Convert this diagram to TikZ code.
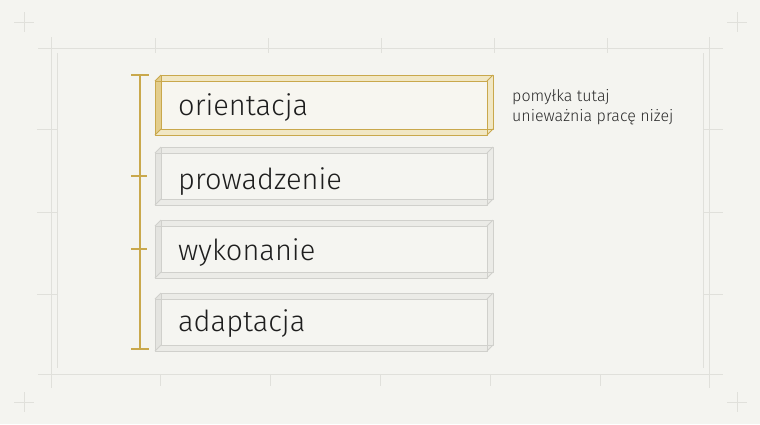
\documentclass[tikz,border=0pt]{standalone}
\usepackage{fontspec}
\setmainfont{Fira Sans}
\newfontfamily\lightfont{Fira Sans Light}
\definecolor{bg}{HTML}{F4F4F0}
\definecolor{gridc}{HTML}{E0E0DB}
\definecolor{gold}{HTML}{C9A84C}
\definecolor{goldside}{HTML}{E3CD8C}
\definecolor{goldlight}{HTML}{F1E7C4}
\definecolor{goldin}{HTML}{F7F6F0}
\definecolor{grayline}{HTML}{D0D0CC}
\definecolor{grayside}{HTML}{E4E4E0}
\definecolor{graylight}{HTML}{EBEBE7}
\definecolor{grayin}{HTML}{F5F5F1}
\definecolor{ink}{HTML}{1E1E1E}
\definecolor{notec}{HTML}{2A2A2A}
\newcommand\stageBox[7]{%
  \fill[#6] (155,#2+6) -- (161,#2) -- (493,#2) -- (493,#3-6) -- (487,#3) -- (155,#3) -- cycle;
  \fill[#7] (161,#2+6) rectangle (487,#3-6);
  \fill[#5] (155,#2+6) -- (161,#2) -- (161,#3-6) -- (155,#3) -- cycle;
  \draw[boxline,#4] (155,#2+6) rectangle (487,#3);
  \draw[boxline,#4] (161,#2) rectangle (493,#3-6);
  \draw[boxline,#4] (155,#2+6) -- (161,#2) (487,#2+6) -- (493,#2)
     (487,#3) -- (493,#3-6) (155,#3) -- (161,#3-6);
  \coordinate (#1) at (155,#2);
}
\tikzset{
  boxline/.style={line width=1pt, line join=round},
  gridline/.style={draw=gridc, line width=0.8pt},
  bracket/.style={draw=gold, line width=1.2pt},
  stagelabel/.style={anchor=base west, inner sep=0pt, text=ink, font=\lightfont\fontsize{29}{34}\selectfont},
  notelabel/.style={anchor=base west, inner sep=0pt, text=notec, font=\lightfont\fontsize{16}{20}\selectfont},
}
\begin{document}
\begin{tikzpicture}[x=1pt,y=-1pt]
\useasboundingbox (0,0) rectangle (760,424);
\fill[bg] (0,0) rectangle (760,424);
% background frame
\draw[gridline] (38,48) -- (723,48) (38,374) -- (723,374)
  (51,37) -- (51,388) (709,37) -- (709,388)
  (57,53) -- (57,368) (703,53) -- (703,368);
\foreach \x in {155,268,381,494,607} \draw[gridline] (\x,38) -- (\x,53);
\foreach \x in {160,270,380,490,600} \draw[gridline] (\x,374) -- (\x,386);
\foreach \y in {129,212,294} {\draw[gridline] (37,\y) -- (57,\y); \draw[gridline] (703,\y) -- (723,\y);}
\foreach \cx/\cy in {24/22,737/22,24/402,737/402}
  \draw[gridline] (\cx-10,\cy) -- (\cx+10,\cy) (\cx,\cy-10) -- (\cx,\cy+10);
% boxes
\stageBox{b1}{75}{135}{draw=gold}{goldside}{goldlight}{goldin}
\stageBox{b2}{147}{205}{draw=grayline}{grayside}{graylight}{grayin}
\stageBox{b3}{220}{278}{draw=grayline}{grayside}{graylight}{grayin}
\stageBox{b4}{293}{351}{draw=grayline}{grayside}{graylight}{grayin}
\node[stagelabel] (t1) at (178,115) {orientacja};
\node[stagelabel] (t2) at (178,189) {prowadzenie};
\node[stagelabel] (t3) at (178,260) {wykonanie};
\node[stagelabel] (t4) at (178,331) {adaptacja};
% bracket
\coordinate (bt) at (140,75);
\coordinate (bb) at (140,349);
\draw[bracket] (bt) -- (bb);
\draw[bracket] (131,75) -- (149,75) (131,349) -- (149,349)
  (131,176) -- (147,176) (131,249) -- (147,249);
% note
\node[notelabel] (n1) at (512,101) {pomyłka tutaj};
\node[notelabel] (n2) at (512,121) {unieważnia pracę niżej};
\end{tikzpicture}
\end{document}
